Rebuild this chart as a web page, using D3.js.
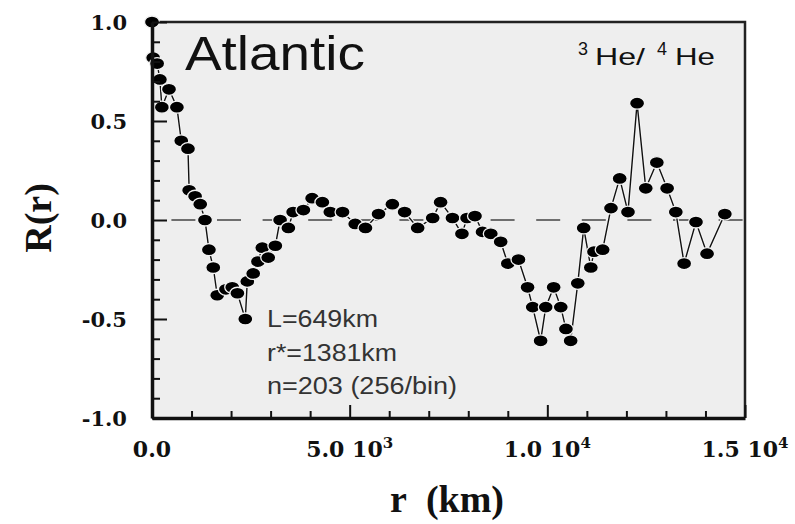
<!DOCTYPE html>
<html>
<head>
<meta charset="utf-8">
<script src="https://cdn.jsdelivr.net/npm/d3@7"></script>
<style>
body { margin: 0; background: #fff; }
</style>
</head>
<body>
<div id="mainDiv"></div>
<script>
'use strict';

// distance of each bin (km) and its correlation R(r)
var rKm = [0, 30, 130, 200, 250, 430, 630, 740, 910, 940, 1090, 1220, 1340, 1440, 1550,
    1650, 1870, 2030, 2160, 2360, 2410, 2560, 2680, 2790, 2940, 3120, 3240, 3450, 3570,
    3830, 4050, 4310, 4510, 4820, 5140, 5400, 5730, 6080, 6390, 6720, 7100, 7300, 7600,
    7840, 7970, 8170, 8360, 8570, 8820, 9000, 9270, 9500, 9630, 9830, 9960, 10160, 10340,
    10470, 10590, 10770, 10920, 11100, 11180, 11400, 11610, 11830, 12040, 12270, 12490,
    12770, 13030, 13250, 13460, 13760, 14040, 14490];
var corr = [1.00, 0.82, 0.79, 0.71, 0.57, 0.66, 0.57, 0.40, 0.36, 0.15, 0.12, 0.08, 0.00, -0.15, -0.24,
    -0.38, -0.35, -0.34, -0.37, -0.50, -0.31, -0.27, -0.21, -0.14, -0.19, -0.13, 0.00, -0.04, 0.04,
    0.05, 0.11, 0.09, 0.04, 0.04, -0.02, -0.04, 0.03, 0.08, 0.04, -0.04, 0.01, 0.09, 0.01,
    -0.07, 0.01, 0.02, -0.06, -0.07, -0.11, -0.22, -0.20, -0.34, -0.44, -0.61, -0.44, -0.34, -0.44,
    -0.55, -0.61, -0.32, -0.04, -0.24, -0.16, -0.15, 0.06, 0.21, 0.04, 0.59, 0.16,
    0.29, 0.16, 0.04, -0.22, -0.01, -0.17, 0.03];

// tick labels
var xTicks = [0, 5000, 10000, 15000];
var xTickText = ['0.0', '5.0 10', '1.0 10', '1.5 10'];
var xTickExp = ['', '3', '4', '4'];
var yTicks = [1, 0.5, 0, -0.5, -1];
var yTickText = ['1.0', '0.5', '0.0', '-0.5', '-1.0'];

// texts
var chartTitle = 'Atlantic';
var notes = ['L=649km', 'r*=1381km', 'n=203 (256/bin)'];
var xLabel = 'r\u00a0 (km)';
var yLabel = 'R(r)';

var corrChart = {};

corrChart.w = 795;
corrChart.h = 524;
corrChart.box = {left: 152, top: 22, right: 745, bottom: 418};

corrChart.serif = '"Liberation Serif", "Times New Roman", serif';
corrChart.tickFont = '"DejaVu Serif", serif';
corrChart.sans = '"Liberation Sans", Arial, sans-serif';

corrChart.x = d3.scaleLinear().domain([0, 15000]).range([corrChart.box.left, corrChart.box.right]);
corrChart.y = d3.scaleLinear().domain([-1, 1]).range([corrChart.box.bottom, corrChart.box.top]);

corrChart.appendSvg = function(div)
{
    return d3.select(div).append('svg')
        .attr('width', corrChart.w)
        .attr('height', corrChart.h)
        .style('display', 'block');
}

corrChart.drawFrame = function(svg)
{
    var b = corrChart.box;

    svg.append('rect')
        .attr('x', b.left)
        .attr('y', b.top)
        .attr('width', b.right - b.left)
        .attr('height', b.bottom - b.top)
        .attr('fill', '#eeeeee');

    // top and right borders
    svg.append('path')
        .attr('d', 'M' + b.left + ',' + b.top + 'H' + b.right + 'V' + b.bottom)
        .attr('fill', 'none')
        .attr('stroke', '#222')
        .attr('stroke-width', 2.5);

    // dashed line at zero
    svg.append('line')
        .attr('x1', b.left)
        .attr('x2', b.right)
        .attr('y1', corrChart.y(0))
        .attr('y2', corrChart.y(0))
        .attr('stroke', '#444')
        .attr('stroke-width', 1.6)
        .attr('stroke-dasharray', '24,21.6')
        .attr('stroke-dashoffset', 26.2);
}

corrChart.drawAxes = function(svg)
{
    var b = corrChart.box;

    var xAxis = d3.axisBottom(corrChart.x)
        .tickValues(d3.range(0, 15001, 1000))
        .tickSize(-7)
        .tickSizeOuter(0)
        .tickFormat('');

    var gx = svg.append('g')
        .attr('class', 'xAxis')
        .attr('transform', 'translate(0,' + b.bottom + ')')
        .call(xAxis);

    gx.selectAll('.tick line')
        .attr('stroke', '#111')
        .attr('stroke-width', 2)
        .attr('y2', function(d) { return d % 5000 === 0 ? -13 : -7; });

    var yAxis = d3.axisLeft(corrChart.y)
        .tickValues(d3.range(-10, 11).map(function(d) { return d / 10; }))
        .tickSize(-8)
        .tickSizeOuter(0)
        .tickFormat('');

    var gy = svg.append('g')
        .attr('class', 'yAxis')
        .attr('transform', 'translate(' + b.left + ',0)')
        .call(yAxis);

    gy.selectAll('.tick line')
        .attr('stroke', '#111')
        .attr('stroke-width', 2)
        .attr('x2', function(d) { return Math.abs(d * 2 - Math.round(d * 2)) < 1e-9 ? 15 : 8; });

    svg.selectAll('.domain')
        .attr('stroke', '#111')
        .attr('stroke-width', 3.5);

    // tick labels
    var xl = svg.append('g').selectAll('text')
        .data(xTicks)
        .enter()
        .append('text')
        .attr('x', function(d) { return corrChart.x(d); })
        .attr('y', 457)
        .attr('text-anchor', 'middle')
        .style('font-family', corrChart.tickFont)
        .style('font-weight', 'bold')
        .style('font-size', '22px')
        .attr('fill', '#111');

    xl.append('tspan')
        .text(function(d, i) { return xTickText[i]; });

    xl.append('tspan')
        .attr('dy', -9)
        .style('font-size', '15px')
        .text(function(d, i) { return xTickExp[i]; });

    svg.append('g').selectAll('text')
        .data(yTicks)
        .enter()
        .append('text')
        .attr('x', 127)
        .attr('y', function(d) { return corrChart.y(d) + 7.5; })
        .attr('text-anchor', 'end')
        .style('font-family', corrChart.tickFont)
        .style('font-weight', 'bold')
        .style('font-size', '21px')
        .attr('fill', '#111')
        .text(function(d, i) { return yTickText[i]; });

    // axis titles
    svg.append('text')
        .attr('x', 447)
        .attr('y', 512)
        .attr('text-anchor', 'middle')
        .style('font-family', corrChart.serif)
        .style('font-weight', 'bold')
        .style('font-size', '38px')
        .attr('fill', '#111')
        .text(xLabel);

    svg.append('text')
        .attr('transform', 'translate(51,218) rotate(-90)')
        .attr('text-anchor', 'middle')
        .style('font-family', corrChart.serif)
        .style('font-weight', 'bold')
        .style('font-size', '38px')
        .attr('fill', '#111')
        .text(yLabel);
}

corrChart.drawData = function(svg)
{
    var idx = d3.range(rKm.length);

    var line = d3.line()
        .x(function(i) { return corrChart.x(rKm[i]); })
        .y(function(i) { return corrChart.y(corr[i]); });

    svg.append('path')
        .datum(idx)
        .attr('fill', 'none')
        .attr('stroke', '#f4f4f4')
        .attr('stroke-width', 3.5)
        .attr('d', line);

    svg.append('path')
        .datum(idx)
        .attr('fill', 'none')
        .attr('stroke', '#111')
        .attr('stroke-width', 1.4)
        .attr('d', line);

    svg.append('g').selectAll('ellipse')
        .data(idx)
        .enter()
        .append('ellipse')
        .attr('cx', function(i) { return corrChart.x(rKm[i]); })
        .attr('cy', function(i) { return corrChart.y(corr[i]); })
        .attr('rx', 7.5)
        .attr('ry', 6)
        .attr('fill', '#000')
        .attr('stroke', '#f2f2f2')
        .attr('stroke-width', 1.3);
}

corrChart.addText = function(svg, x, y, str, size, len, color)
{
    return svg.append('text')
        .attr('x', x)
        .attr('y', y)
        .attr('textLength', len)
        .attr('lengthAdjust', 'spacingAndGlyphs')
        .style('font-family', corrChart.sans)
        .style('font-size', size + 'px')
        .attr('fill', color)
        .text(str);
}

corrChart.drawLabels = function(svg)
{
    corrChart.addText(svg, 185, 70, chartTitle, 48, 180, '#111');

    // isotope ratio label
    corrChart.addText(svg, 578, 55, '3', 19, 10, '#111');
    corrChart.addText(svg, 595, 65, 'He/', 24, 50, '#111');
    corrChart.addText(svg, 657, 55, '4', 19, 10, '#111');
    corrChart.addText(svg, 675, 65, 'He', 24, 40, '#111');

    var lens = [111, 130, 190];
    var base = [327, 361, 394];
    notes.forEach(function(t, i) {
        corrChart.addText(svg, 267, base[i], t, 23, lens[i], '#333');
    });
}

corrChart.run = function()
{
    var svg = corrChart.appendSvg('#mainDiv');
    corrChart.drawFrame(svg);
    corrChart.drawData(svg);
    corrChart.drawAxes(svg);
    corrChart.drawLabels(svg);
}

window.onload = corrChart.run;
</script>
</body>
</html>
